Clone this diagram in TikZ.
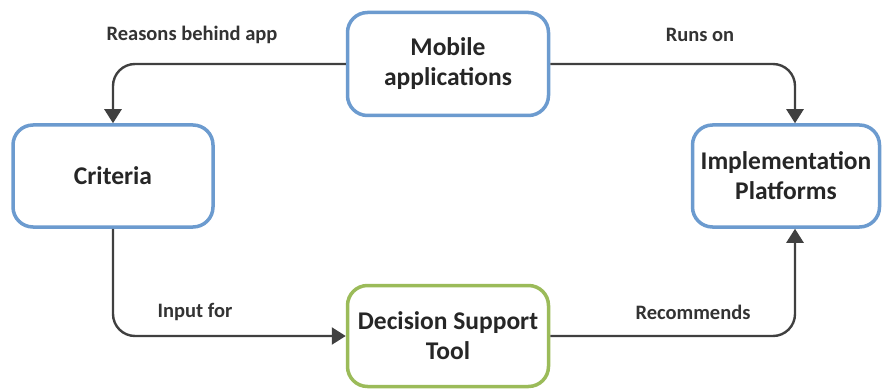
\documentclass[tikz,border=0pt]{standalone}
\usepackage{fontspec}
\setmainfont{Carlito}
\usetikzlibrary{arrows.meta}
\definecolor{bblue}{HTML}{6C9BCF}
\definecolor{bgreen}{HTML}{9BBB59}
\definecolor{lgray}{HTML}{404040}
\begin{document}
\begin{tikzpicture}[x=1pt,y=-1pt,
  box/.style={draw=bblue,line width=3.5pt,rounded corners=20pt,fill=white,
    align=center,font=\fontsize{25.5}{30}\selectfont\bfseries,text=black!85,inner sep=0pt},
  conn/.style={draw=lgray,line width=2.4pt,rounded corners=22pt,
    -{Triangle[length=14pt,width=17pt]}},
  lbl/.style={font=\fontsize{20.5}{24}\selectfont\bfseries,text=black!80}]
\useasboundingbox (0,0) rectangle (883,390);
\node[box,minimum width=201pt,minimum height=103pt] (mob) at (448,64) {Mobile\\applications};
\node[box,minimum width=200pt,minimum height=102pt] (cri) at (113,176) {Criteria};
\node[box,minimum width=187pt,minimum height=102pt] (imp) at (786,176) {Implementation\\Platforms};
\node[box,draw=bgreen,minimum width=201pt,minimum height=101pt] (dst) at (448,336) {Decision Support\\Tool};
\draw[conn] (mob.west) -| (cri.north);
\draw[conn] (mob.east) -| ([xshift=9pt]imp.north);
\draw[conn] (cri.south) |- (dst.west);
\draw[conn] (dst.east) -| ([xshift=9pt]imp.south);
\node[lbl] (l1) at (192,35) {Reasons behind app};
\node[lbl] (l2) at (700,35) {Runs on};
\node[lbl] (l3) at (195,312) {Input for};
\node[lbl] (l4) at (693,312) {Recommends};
\end{tikzpicture}
\end{document}
